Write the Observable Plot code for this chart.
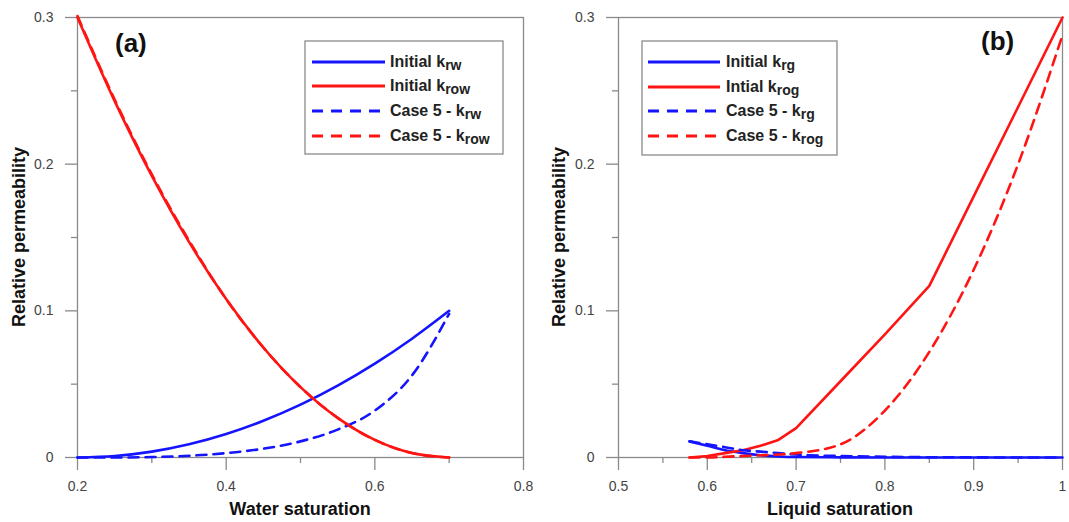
<!DOCTYPE html>
<html>
<head>
<meta charset="utf-8">
<script src="https://cdn.jsdelivr.net/npm/d3@7"></script>
<script src="https://cdn.jsdelivr.net/npm/@observablehq/plot@0.6"></script>
<style>
  body { margin: 0; background: white; }
  #wrap { display: flex; width: 1069px; height: 522px; }
  svg { font-family: "Liberation Sans", Arial, sans-serif; }
</style>
</head>
<body>
<div id="wrap"></div>
<script>
// ---- Panel (a): water saturation ----
const swA        = [0.2, 0.25, 0.3, 0.35, 0.4, 0.45, 0.5, 0.55, 0.6, 0.65, 0.7];
const krwInit    = [0.0, 0.001, 0.004, 0.009, 0.016, 0.025, 0.036, 0.049, 0.064, 0.081, 0.100];
const krowInit   = [0.300, 0.243, 0.192, 0.147, 0.108, 0.075, 0.048, 0.027, 0.012, 0.003, 0.0];
const krwCase5   = [0.0, 0.0, 0.0003, 0.0012, 0.003, 0.006, 0.011, 0.019, 0.032, 0.056, 0.098];
const krowCase5  = [0.301, 0.244, 0.193, 0.148, 0.108, 0.075, 0.048, 0.027, 0.012, 0.003, 0.0];

// ---- Panel (b): liquid saturation ----
const slB        = [0.58, 0.6, 0.62, 0.64, 0.66, 0.68, 0.7, 0.75, 0.8, 0.85, 0.9, 0.95, 1.0];
const krgInit    = [0.011, 0.008, 0.005, 0.003, 0.0015, 0.0007, 0.0003, 0.0001, 0, 0, 0, 0, 0];
const krogInit   = [0.0, 0.001, 0.003, 0.005, 0.008, 0.012, 0.020, 0.052, 0.084, 0.117, 0.178, 0.239, 0.300];
const krgCase5   = [0.011, 0.009, 0.007, 0.005, 0.004, 0.003, 0.002, 0.001, 0.0005, 0.0002, 0.0001, 0, 0];
const krogCase5  = [0.0, 0.0, 0.0005, 0.001, 0.0015, 0.002, 0.003, 0.009, 0.032, 0.072, 0.128, 0.200, 0.288];

// ---- Ticks & labels ----
const yMajor = [0, 0.1, 0.2, 0.3];
const yMinor = [0.05, 0.15, 0.25];
const xMajorA = [0.2, 0.4, 0.6, 0.8];
const xMinorA = [0.3, 0.5, 0.7];
const xMajorB = [0.5, 0.6, 0.7, 0.8, 0.9, 1.0];
const xMinorB = [0.55, 0.65, 0.75, 0.85, 0.95];
const legendA = [
  {main: "Initial k", sub: "rw", color: "blue", dash: false},
  {main: "Initial k", sub: "row", color: "red", dash: false},
  {main: "Case 5 - k", sub: "rw", color: "blue", dash: true},
  {main: "Case 5 - k", sub: "row", color: "red", dash: true}
];
const legendB = [
  {main: "Initial k", sub: "rg", color: "blue", dash: false},
  {main: "Intial k", sub: "rog", color: "red", dash: false},
  {main: "Case 5 - k", sub: "rg", color: "blue", dash: true},
  {main: "Case 5 - k", sub: "rog", color: "red", dash: true}
];

const BLUE = "#1414ff", RED = "#ff1414", AXIS = "#8a8a8a", DASH = "10,7";
const toRows = (xs, ys) => xs.map((x, i) => ({x, y: ys[i]}));
const fmt = d => String(d);

function panel(o) {
  const series = o.series.map(s => Plot.line(toRows(s.x, s.y), {
    x: "x", y: "y", stroke: s.color, strokeWidth: 2.6,
    strokeDasharray: s.dash ? DASH : null, curve: s.curve || "monotone-x"
  }));
  const svg = Plot.plot({
    width: o.width, height: 522,
    marginLeft: o.marginLeft, marginRight: o.marginRight, marginTop: 17, marginBottom: 65,
    x: {domain: o.xDomain}, y: {domain: [0, 0.3]},
    style: {fontFamily: "Liberation Sans, Arial, sans-serif", fontSize: "14px", color: "#444", background: "white", overflow: "visible"},
    marks: [
      Plot.frame({stroke: AXIS, strokeWidth: 1.3}),
      Plot.axisX(o.xMajor, {tickSize: 13, tickPadding: 11, tickFormat: fmt, stroke: AXIS, strokeWidth: 1.3, label: null}),
      Plot.axisX(o.xMinor, {tickSize: 6, tickFormat: () => "", stroke: AXIS, strokeWidth: 1.3, label: null}),
      Plot.axisY(yMajor, {tickSize: 12, tickPadding: 12, tickFormat: fmt, stroke: AXIS, strokeWidth: 1.3, label: null}),
      Plot.axisY(yMinor, {tickSize: 6, tickFormat: () => "", stroke: AXIS, strokeWidth: 1.3, label: null}),
      ...series
    ]
  });
  const s = d3.select(svg);
  // axis titles
  s.append("text").attr("x", o.marginLeft + (o.width - o.marginLeft - o.marginRight) / 2).attr("y", 515)
    .attr("text-anchor", "middle").attr("font-size", 18).attr("font-weight", "bold").attr("fill", "#111")
    .text(o.xTitle);
  s.append("text").attr("transform", "translate(25,237) rotate(-90)")
    .attr("text-anchor", "middle").attr("font-size", 18).attr("font-weight", "bold").attr("fill", "#111")
    .text("Relative permeability");
  // panel label
  s.append("text").attr("x", o.tag.x).attr("y", o.tag.y).attr("text-anchor", "start")
    .attr("font-size", 26).attr("font-weight", "bold").attr("fill", "#111").text(o.tag.text);
  // legend
  const L = o.legend;
  const g = s.append("g");
  g.append("rect").attr("x", L.x).attr("y", L.y).attr("width", L.w).attr("height", L.h)
    .attr("fill", "white").attr("stroke", AXIS).attr("stroke-width", 1.3);
  L.items.forEach((it, i) => {
    const yy = L.rows[i];
    g.append("line").attr("x1", L.lx1).attr("x2", L.lx2).attr("y1", yy).attr("y2", yy)
      .attr("stroke", it.color === "blue" ? BLUE : RED).attr("stroke-width", 2.8)
      .attr("stroke-dasharray", it.dash ? "11,8" : null);
    const t = g.append("text").attr("x", L.tx).attr("y", yy + 5).attr("font-size", 16)
      .attr("text-anchor", "start").attr("font-weight", "bold").attr("fill", "#222");
    t.append("tspan").text(it.main);
    t.append("tspan").attr("font-size", 14).attr("dy", 3).text(it.sub);
  });
  return svg;
}

const wrap = document.getElementById("wrap");
wrap.appendChild(panel({
  width: 540, marginLeft: 77, marginRight: 17, xDomain: [0.2, 0.8],
  xMajor: xMajorA, xMinor: xMinorA, xTitle: "Water saturation",
  tag: {text: "(a)", x: 115, y: 52},
  series: [
    {x: swA, y: krwInit, color: BLUE},
    {x: swA, y: krowInit, color: RED},
    {x: swA, y: krwCase5, color: BLUE, dash: true},
    {x: swA, y: krowCase5, color: RED, dash: true}
  ],
  legend: {x: 305, y: 41, w: 198, h: 113, lx1: 312, lx2: 385, tx: 390, rows: [62, 86, 111, 136], items: legendA}
}));
wrap.appendChild(panel({
  width: 529, marginLeft: 78, marginRight: 7, xDomain: [0.5, 1.0],
  xMajor: xMajorB, xMinor: xMinorB, xTitle: "Liquid saturation",
  tag: {text: "(b)", x: 441, y: 50},
  series: [
    {x: slB, y: krgInit, color: BLUE},
    {x: slB, y: krogInit, color: RED, curve: "linear"},
    {x: slB, y: krgCase5, color: BLUE, dash: true},
    {x: slB, y: krogCase5, color: RED, dash: true}
  ],
  legend: {x: 102, y: 41, w: 195, h: 114, lx1: 108, lx2: 180, tx: 186, rows: [62, 87, 111, 136], items: legendB}
}));
</script>
</body>
</html>
